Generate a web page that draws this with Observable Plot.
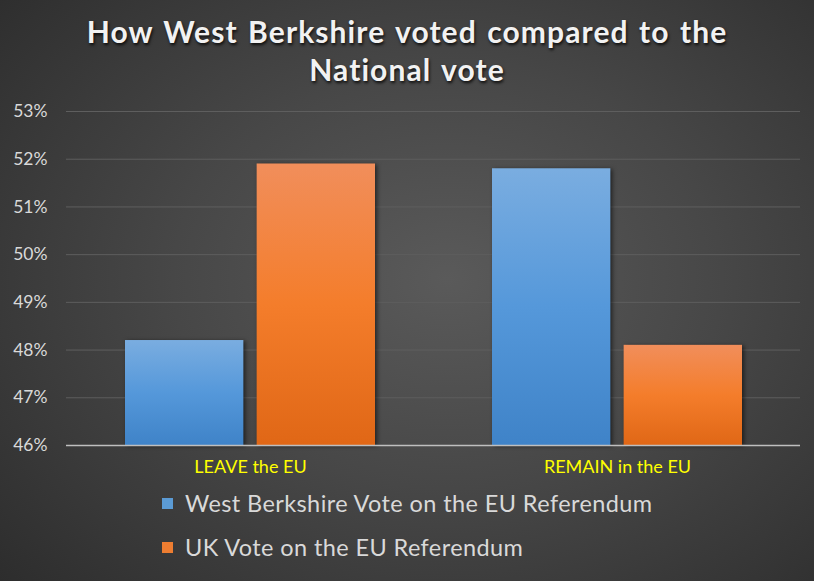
<!DOCTYPE html>
<html><head><meta charset="utf-8">
<script src="https://cdn.jsdelivr.net/npm/d3@7"></script>
<script src="https://cdn.jsdelivr.net/npm/@observablehq/plot@0.6"></script>
<style>
html,body{margin:0;padding:0;}
#wrap{width:814px;height:581px;position:relative;overflow:hidden;
 background:radial-gradient(ellipse 75% 80% at 55% 48%, #5a5a5a 0%, #474747 45%, #2c2c2c 100%);
 font-family:Lato, "Open Sans", sans-serif;}
#title{position:absolute;left:0;top:12px;width:814px;text-align:center;color:#f2f2f2;font-weight:bold;
 font-size:30px;line-height:38px;letter-spacing:1.1px;word-spacing:2px;text-shadow:1px 2px 3px rgba(0,0,0,0.8);}
#chart{position:absolute;left:0;top:90px;}
#legend{position:absolute;left:162px;top:481px;color:#d9d9d9;font-size:23.5px;letter-spacing:0.4px;}
.li{display:flex;align-items:center;height:44px;}
.sw{width:11px;height:11px;margin-right:12px;}
</style></head>
<body><div id="wrap">
<div id="title">How West Berkshire voted compared to the<br>National vote</div>
<div id="chart"></div>
<div id="legend"></div>
</div>
<script>
const categories = ["LEAVE the EU", "REMAIN in the EU"];
const seriesNames = ["West Berkshire Vote on the EU Referendum", "UK Vote on the EU Referendum"];
const westBerkshire = [0.482, 0.518];
const uk = [0.519, 0.481];
const yTicks = [0.46, 0.47, 0.48, 0.49, 0.50, 0.51, 0.52, 0.53];
const seriesColors = ["#5b9bd5", "#ed7d31"];

const data = [];
categories.forEach((c, i) => {
  data.push({category: c, series: seriesNames[0], value: westBerkshire[i], k: 0});
  data.push({category: c, series: seriesNames[1], value: uk[i], k: 1});
});

const W = 814, H = 400;
const mL = 66, mR = 14;
const x = d3.scaleBand().domain(categories).range([mL, W - mR]).paddingInner(0.32).paddingOuter(0.16);
const bw = x.bandwidth();
const gap = bw * 0.055;
const half = (bw - gap) / 2;

const yMin = yTicks[0];
const plot = Plot.plot({
  width: W, height: H,
  marginLeft: mL, marginRight: mR, marginTop: 21, marginBottom: 45,
  style: {background: "transparent", fontFamily: "Lato, 'Open Sans', sans-serif"},
  x: {domain: categories, paddingInner: 0.32, paddingOuter: 0.16, axis: null},
  y: {domain: [yTicks[0], yTicks[yTicks.length - 1]], axis: null},
  marks: [
    Plot.ruleY(yTicks.slice(1), {stroke: "#5e5e5e", strokeWidth: 1}),
    Plot.barY(data.filter(d => d.k === 0), {x: "category", y1: yMin, y2: "value", fill: "url(#gBlue)", insetRight: bw - half}),
    Plot.barY(data.filter(d => d.k === 1), {x: "category", y1: yMin, y2: "value", fill: "url(#gOrange)", insetLeft: bw - half}),
    Plot.ruleY([yMin], {stroke: "#bfbfbf", strokeWidth: 1.5}),
    Plot.axisY({ticks: yTicks, tickSize: 0, tickPadding: 0, dx: -19, textAnchor: "end", fontSize: 17.5, fill: "#d9d9d9", tickFormat: d => Math.round(d * 100) + "%", label: null}),
    Plot.axisX({tickSize: 0, tickPadding: 15, fontSize: 18, fill: "#ffff00", label: null, style: {letterSpacing: "0.6px"}})
  ]
});

const svg = d3.select(plot);
const defs = svg.insert("defs", ":first-child");
const grads = [
  {id: "gBlue", stops: [["0%", "#7aade0"], ["50%", "#5598da"], ["100%", "#3f83c8"]]},
  {id: "gOrange", stops: [["0%", "#f18e5b"], ["50%", "#f47d2b"], ["100%", "#e06716"]]}
];
grads.forEach(g => {
  const lg = defs.append("linearGradient").attr("id", g.id).attr("x1", 0).attr("y1", 0).attr("x2", 0).attr("y2", 1);
  g.stops.forEach(s => lg.append("stop").attr("offset", s[0]).attr("stop-color", s[1]));
});
svg.selectAll("g[aria-label='bar']").style("filter", "drop-shadow(2px 1px 2px rgba(0,0,0,0.55))");
document.getElementById("chart").appendChild(plot);

const legend = d3.select("#legend");
seriesNames.forEach((s, i) => {
  const row = legend.append("div").attr("class", "li");
  row.append("div").attr("class", "sw").style("background", seriesColors[i]);
  row.append("span").text(s);
});
</script>
</body></html>
